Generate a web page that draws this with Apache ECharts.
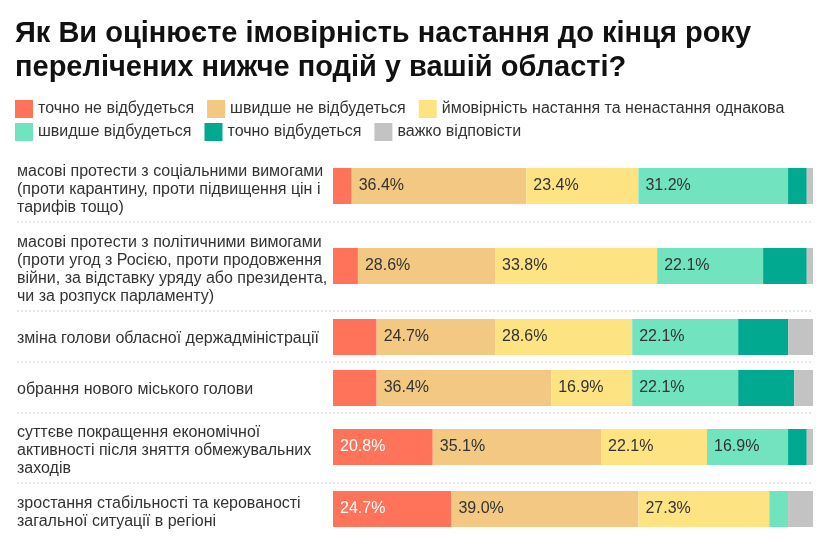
<!DOCTYPE html>
<html><head><meta charset="utf-8">
<script src="https://cdn.jsdelivr.net/npm/echarts@6/dist/echarts.min.js"></script>
<style>html,body{margin:0;padding:0;background:#fff}#c{width:830px;height:538px}</style>
</head><body><div id="c"></div>
<script>
const titleText = "Як Ви оцінюєте імовірність настання до кінця року\nперелічених нижче подій у вашій області?";
const categories = [
  "масові протести з соціальними вимогами\n(проти карантину, проти підвищення цін і\nтарифів тощо)",
  "масові протести з політичними вимогами\n(проти угод з Росією, проти продовження\nвійни, за відставку уряду або президента,\nчи за розпуск парламенту)",
  "зміна голови обласної держадміністрації",
  "обрання нового міського голови",
  "суттєве покращення економічної\nактивності після зняття обмежувальних\nзаходів",
  "зростання стабільності та керованості\nзагальної ситуації в регіоні"
];
const seriesNames = ["точно не відбудеться","швидше не відбудеться","ймовірність настання та ненастання однакова","швидше відбудеться","точно відбудеться","важко відповісти"];
const surelyNot = [3.9, 5.2, 9.1, 9.1, 20.8, 24.7];
const ratherNot = [36.4, 28.6, 24.7, 36.4, 35.1, 39.0];
const equalChance = [23.4, 33.8, 28.6, 16.9, 22.1, 27.3];
const ratherYes = [31.2, 22.1, 22.1, 22.1, 16.9, 3.9];
const surelyYes = [3.9, 9.1, 10.4, 11.7, 3.9, 0];
const hardToSay = [1.3, 1.3, 5.2, 3.9, 1.3, 5.2];
const seriesValues = [surelyNot, ratherNot, equalChance, ratherYes, surelyYes, hardToSay];

const colors = ["#FF735A","#F2C882","#FDE382","#71E3BE","#00A98F","#C3C3C3"];
const labelColors = ["#fff","#333","#333","#333","#333","#333"];
const barTops = [168, 248, 319, 370, 429, 491];
const barH = 36;
const sepYs = [222, 311, 362, 413, 483];
const FONT = "'Liberation Sans', Arial, sans-serif";

const grids = [], xAxes = [], yAxes = [], series = [];
categories.forEach((cat, g) => {
  const multi = cat.indexOf('\n') >= 0;
  grids.push({left: 333, right: 17, top: barTops[g], height: barH});
  xAxes.push({type:'value', gridIndex:g, min:0, max:'dataMax', show:false});
  yAxes.push({type:'category', gridIndex:g, data:[cat], axisLine:{show:false}, axisTick:{show:false},
    axisLabel:{align:'left', margin:316, fontSize:16, lineHeight:18, color:'#333', fontFamily:FONT,
      formatter: v => '{s| }\n' + v,
      rich:{s:{fontSize:1, lineHeight: multi ? 8 : 4}}}});
  seriesNames.forEach((name, s) => {
    series.push({type:'bar', name, stack:'row'+g, xAxisIndex:g, yAxisIndex:g, barWidth:'100%',
      data:[seriesValues[s][g]], itemStyle:{color:colors[s]},
      label:{show:true, position:'insideLeft', offset:[2,0], fontSize:16, fontFamily:FONT, color:labelColors[s],
        formatter: p => p.value >= 15 ? p.value.toFixed(1) + '%' : ''},
      emphasis:{disabled:true}, animation:false});
  });
});

const graphic = sepYs.map(y => ({type:'line', shape:{x1:17, y1:y, x2:813, y2:y},
  style:{stroke:'#d0d0d0', lineWidth:1, lineDash:[2,2]}, silent:true}));

const legendCommon = {left:10, itemWidth:18, itemHeight:18, itemGap:13, icon:'rect',
  textStyle:{fontSize:16, color:'#333', fontFamily:FONT}, selectedMode:false};

const chart = echarts.init(document.getElementById('c'), null, {renderer:'canvas'});
chart.setOption({
  backgroundColor:'#fff',
  animation:false,
  title:{text:titleText, left:10, top:12, textStyle:{fontSize:29, fontWeight:'bold', color:'#111', lineHeight:34, fontFamily:FONT}},
  legend:[
    Object.assign({}, legendCommon, {top:95, data:seriesNames.slice(0,3)}),
    Object.assign({}, legendCommon, {top:118, data:seriesNames.slice(3)})
  ],
  grid:grids, xAxis:xAxes, yAxis:yAxes, series, graphic
});
</script></body></html>
